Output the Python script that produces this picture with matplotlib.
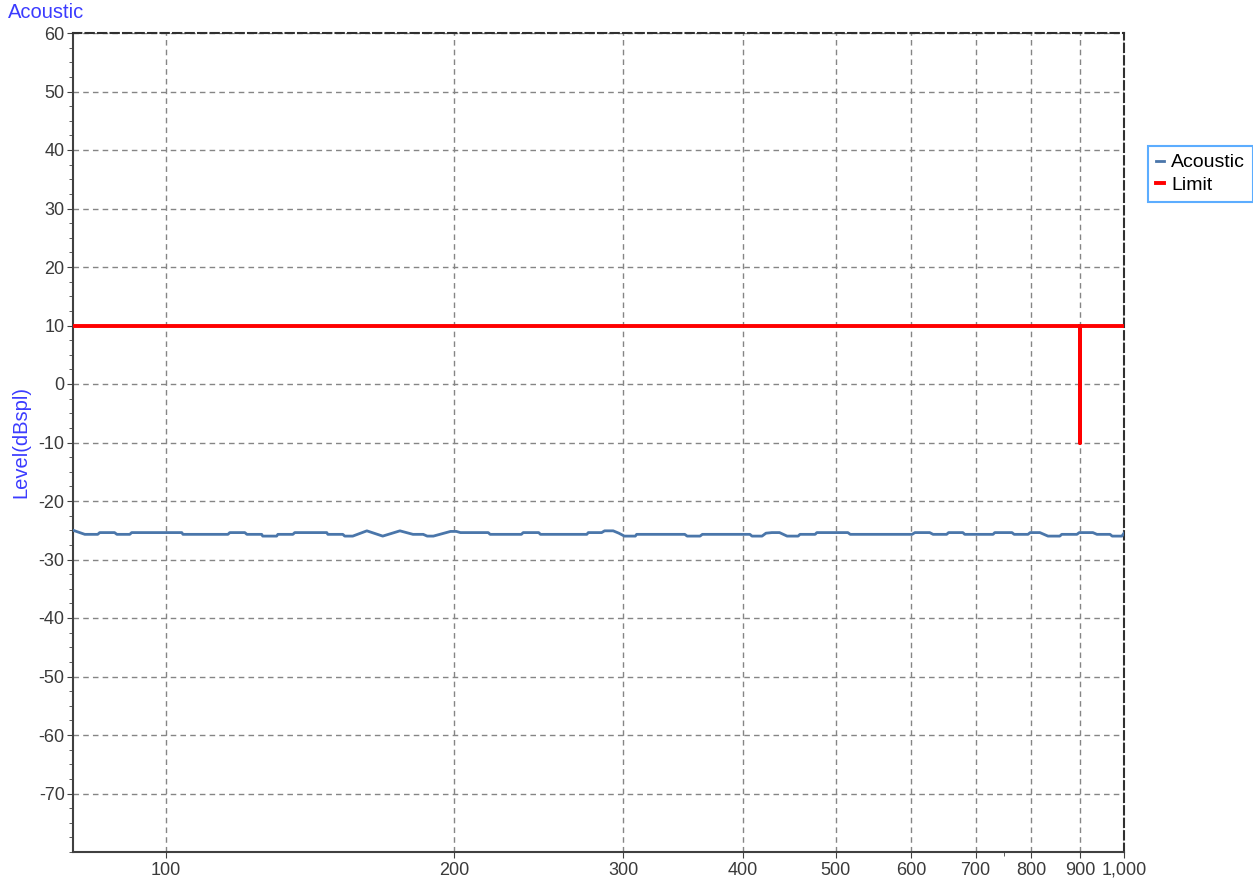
import matplotlib.pyplot as plt
import matplotlib.ticker as mticker
import numpy as np

plt.rcParams['font.family'] = ['Liberation Sans', 'DejaVu Sans']
plt.rcParams['axes.unicode_minus'] = False

# Acoustic level trace (Hz, dBspl)
freq = [80, 82.3, 84.9, 85.3, 88.4, 88.9, 91.7, 92.1, 103.9, 104.2, 116.1, 116.6,
        120.9, 121.5, 125.9, 126.2, 130.5, 130.9, 135.7, 136.3, 147.2, 147.6, 153.0,
        153.7, 156.7, 162.1, 168.4, 175.5, 181.1, 185.6, 187.4, 190.2, 198.2, 201,
        203, 217, 218, 235, 236, 245, 246, 275, 276, 285, 287, 293, 297, 301, 309,
        310, 348, 350, 361, 363, 407, 409, 419, 423, 429, 437, 445, 457, 459, 476,
        478, 515, 518, 601, 605, 627, 632, 653, 656, 679, 682, 730, 733, 764, 768,
        794, 798, 817, 833, 857, 861, 893, 898, 928, 937, 967, 972, 995, 1000]
level = [-25.0, -25.7, -25.7, -25.4, -25.4, -25.7, -25.7, -25.4, -25.4, -25.7, -25.7, -25.4,
         -25.4, -25.7, -25.7, -26.0, -26.0, -25.7, -25.7, -25.4, -25.4, -25.7, -25.7,
         -26.0, -26.0, -25.1, -26.0, -25.1, -25.7, -25.7, -26.0, -26.0, -25.2, -25.2,
         -25.4, -25.4, -25.7, -25.7, -25.4, -25.4, -25.7, -25.7, -25.4, -25.4, -25.1, -25.1, -25.5, -26.0, -26.0,
         -25.7, -25.7, -26.0, -26.0, -25.7, -25.7, -26.0, -26.0, -25.5, -25.4, -25.4, -26.0, -26.0, -25.7,
         -25.7, -25.4, -25.4, -25.7, -25.7, -25.4, -25.4, -25.7, -25.7, -25.4, -25.4, -25.7, -25.7, -25.4, -25.4,
         -25.7, -25.7, -25.4, -25.4, -26.0, -26.0, -25.7, -25.7, -25.4, -25.4, -25.7, -25.7, -26.0, -26.0, -25.5]

# Limit line
limit_freq = [80, 900, 900, 900, 1000]
limit_level = [10, 10, -10, 10, 10]

xticks = [100, 200, 300, 400, 500, 600, 700, 800, 900, 1000]
xticklabels = ['100', '200', '300', '400', '500', '600', '700', '800', '900', '1,000']

fig = plt.figure(figsize=(12.53, 8.81), dpi=100)
ax = fig.add_axes([73 / 1253, 1 - 852 / 881, (1124 - 73) / 1253, (852 - 33) / 881])

ax.plot(freq, level, color='#4a76aa', linewidth=2.0, label='Acoustic', zorder=3)
ax.plot(limit_freq, limit_level, color='#ff0000', linewidth=2.8, label='Limit', zorder=4)

ax.set_xscale('log')
ax.set_xlim(80, 1000)
ax.set_ylim(-80, 60)

ax.set_xticks(xticks)
ax.set_xticklabels(xticklabels)
ax.xaxis.set_minor_locator(mticker.FixedLocator([750]))
ax.xaxis.set_minor_formatter(mticker.NullFormatter())
ax.set_yticks(np.arange(-70, 61, 10))
ax.yaxis.set_minor_locator(mticker.MultipleLocator(2.5))

ax.tick_params(axis='both', which='major', labelsize=13, labelcolor='#3a3a3a',
               color='#404040', length=4, direction='out')
ax.tick_params(axis='both', which='minor', color='#404040', length=3, direction='out')
ax.tick_params(axis='x', pad=3)
ax.tick_params(axis='y', pad=2)

ax.grid(True, which='major', color='#858585', linestyle=(0, (4, 3)), linewidth=1.0, zorder=0)

for side in ['left', 'bottom']:
    ax.spines[side].set_color('#404040')
    ax.spines[side].set_linewidth(1.5)
for side in ['top', 'right']:
    ax.spines[side].set_color('#303030')
    ax.spines[side].set_linewidth(1.5)
    ax.spines[side].set_linestyle((0, (4, 2)))

ax.set_ylabel('Level(dBspl)', color='#3b3bff', fontsize=14.5, labelpad=6)
fig.text(8 / 1253, 1 - 12 / 881, 'Acoustic', color='#3b3bff', fontsize=14.5,
         ha='left', va='center')

leg = ax.legend(loc='upper left', bbox_to_anchor=(1148 / 1253, 1 - 146 / 881),
                bbox_transform=fig.transFigure, fontsize=14, frameon=True,
                fancybox=False, handlelength=0.4, handletextpad=0.4,
                borderpad=0.4, labelspacing=0.25, borderaxespad=0)
leg.get_frame().set_edgecolor('#3399ff')
leg.get_frame().set_linewidth(1.5)

fig.savefig('out.png', dpi=100)
